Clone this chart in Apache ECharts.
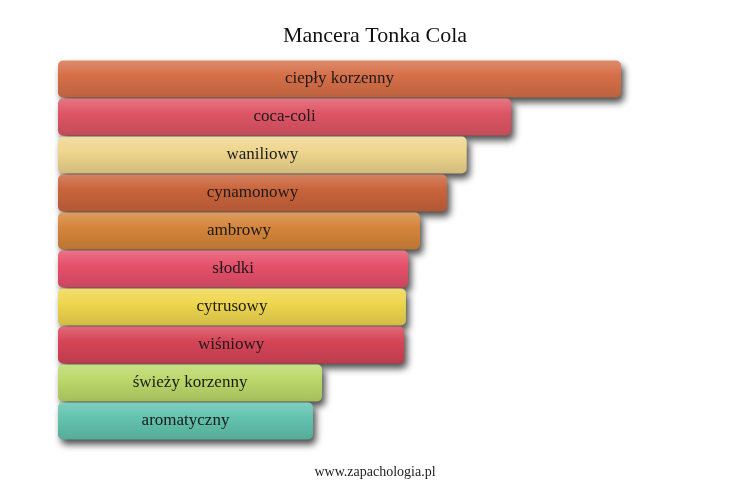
<!DOCTYPE html>
<html lang="pl">
  <head>
    <meta charset="UTF-8" />
    <title>Mancera Tonka Cola</title>
    <script src="https://cdn.jsdelivr.net/npm/echarts@6/dist/echarts.min.js"></script>
    <style>
      html, body { margin: 0; padding: 0; background: #fff; }
      #main { width: 750px; height: 500px; }
    </style>
  </head>
  <body>
    <div id="main"></div>
  </body>
  <script>
    // akordy (od góry)
    const categories = [
      "ciepły korzenny", "coca-coli", "waniliowy", "cynamonowy", "ambrowy",
      "słodki", "cytrusowy", "wiśniowy", "świeży korzenny", "aromatyczny"
    ];
    const values = [100, 80.5, 72.6, 69.1, 64.3, 62.2, 61.8, 61.5, 46.9, 45.3];
    const colors = [
      "#d66f48", "#de5565", "#efd68e", "#c9643b", "#d5853b",
      "#e6506a", "#efd64e", "#d64457", "#bcd86a", "#62c3ae"
    ];

    // jaśniej / ciemniej
    function shade(hex, f) {
      let n = parseInt(hex.slice(1), 16);
      let r = (n >> 16) & 255, g = (n >> 8) & 255, b = n & 255;
      function c(v) {
        v = f > 0 ? v + (255 - v) * f : v * (1 + f);
        return Math.max(0, Math.min(255, Math.round(v)));
      }
      return "rgb(" + c(r) + "," + c(g) + "," + c(b) + ")";
    }

    const data = values.map(function (v, i) {
      return {
        value: v,
        itemStyle: {
          color: new echarts.graphic.LinearGradient(0, 0, 0, 1, [
            { offset: 0, color: shade(colors[i], 0.2) },
            { offset: 0.4, color: colors[i] },
            { offset: 1, color: shade(colors[i], -0.12) }
          ])
        }
      };
    });

    var myChart = echarts.init(document.getElementById("main"));
    var option = {
      animation: false,
      title: {
        text: "Mancera Tonka Cola",
        left: "center",
        top: 20,
        textStyle: {
          fontFamily: "Liberation Serif",
          fontWeight: "normal",
          fontSize: 22,
          color: "#111"
        }
      },
      graphic: [
        {
          type: "text",
          left: "center",
          top: 465,
          style: {
            text: "www.zapachologia.pl",
            font: "14px 'Liberation Serif'",
            fill: "#222"
          }
        }
      ],
      grid: { left: 58, top: 60, width: 563, height: 380 },
      xAxis: { type: "value", min: 0, max: 100, show: false },
      yAxis: {
        type: "category",
        data: categories,
        inverse: true,
        show: false
      },
      series: [
        {
          type: "bar",
          data: data,
          barCategoryGap: "3%",
          itemStyle: {
            borderRadius: 5,
            shadowColor: "rgba(0,0,0,0.7)",
            shadowBlur: 7,
            shadowOffsetX: 3,
            shadowOffsetY: 5
          },
          label: {
            show: true,
            position: "inside",
            formatter: function (p) { return p.name; },
            fontFamily: "Liberation Serif",
            fontSize: 17,
            color: "#1a1a1a"
          }
        }
      ]
    };
    myChart.setOption(option);
  </script>
</html>
